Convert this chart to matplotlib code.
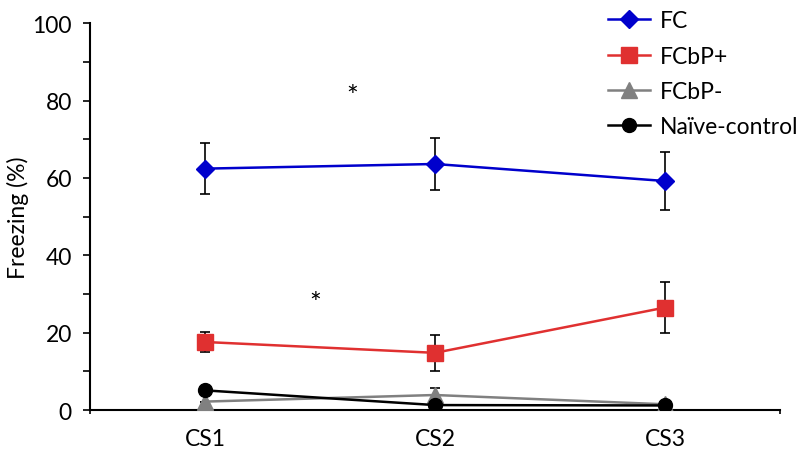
import numpy as np
import matplotlib
matplotlib.use("Agg")
import matplotlib.pyplot as plt
from matplotlib.lines import Line2D

plt.rcParams['font.family'] = ['Lato', 'DejaVu Sans']

stimuli = ['CS1', 'CS2', 'CS3']
fc = [62.4, 63.6, 59.2]
fc_err = [6.6, 6.8, 7.6]
fcbp_pos = [17.6, 14.8, 26.5]
fcbp_pos_err = [2.7, 4.7, 6.7]
fcbp_neg = [2.2, 3.9, 1.5]
fcbp_neg_err = [0.0, 1.8, 0.0]
naive = [5.1, 1.3, 1.2]
naive_err = [0.0, 0.0, 0.0]

x = np.arange(1, len(stimuli) + 1)

fig = plt.figure(figsize=(8, 4.64), dpi=100)
ax = fig.add_axes([0.1125, 0.114, 0.8625, 0.834])

styles = [
    ('FC', fc, fc_err, '#0000cc', 'D', 9),
    ('FCbP+', fcbp_pos, fcbp_pos_err, '#e03030', 's', 11),
    ('FCbP-', fcbp_neg, fcbp_neg_err, '#808080', '^', 11),
    ('Naïve-control', naive, naive_err, 'black', 'o', 10),
]
handles = []
for i, (name, vals, err, col, mk, ms) in enumerate(styles):
    ax.errorbar(x, vals, yerr=err, color=col, marker=mk, ms=ms, lw=1.8,
                ecolor='black', elinewidth=1.2, capsize=3.5, capthick=1.2,
                zorder=3 + i)
    handles.append(Line2D([], [], color=col, marker=mk, ms=ms, lw=1.8, label=name))

ax.text(1.64, 81.0, '*', fontsize=20, ha='center', va='center')
ax.text(1.48, 27.3, '*', fontsize=20, ha='center', va='center')

ax.set_xlim(0.5, 3.5)
ax.set_ylim(0, 100)
ax.set_xticks(x)
ax.set_xticklabels(stimuli)
ax.set_xticks([0.5, 3.5], minor=True)
ax.tick_params(axis='x', which='major', length=0, pad=13, labelsize=16.5)
ax.tick_params(axis='x', which='minor', length=3, width=1.2, direction='out')
ax.set_yticks(np.arange(0, 101, 20))
ax.set_yticks(np.arange(10, 100, 20), minor=True)
ax.tick_params(axis='y', which='both', length=5, width=1.2, direction='out',
               pad=8, labelsize=16.5)
ax.set_ylabel('Freezing (%)', fontsize=16.5)
ax.yaxis.set_label_coords(-0.088, 0.5)

for s in ['top', 'right']:
    ax.spines[s].set_visible(False)
for s in ['left', 'bottom']:
    ax.spines[s].set_linewidth(1.5)

fig.legend(handles=handles, loc='upper left', bbox_to_anchor=(0.7375, 1.015),
           frameon=False, fontsize=16.5, labelspacing=0.62, handlelength=1.8,
           handletextpad=0.45, borderpad=0.3)

fig.savefig('out.png', dpi=100)
